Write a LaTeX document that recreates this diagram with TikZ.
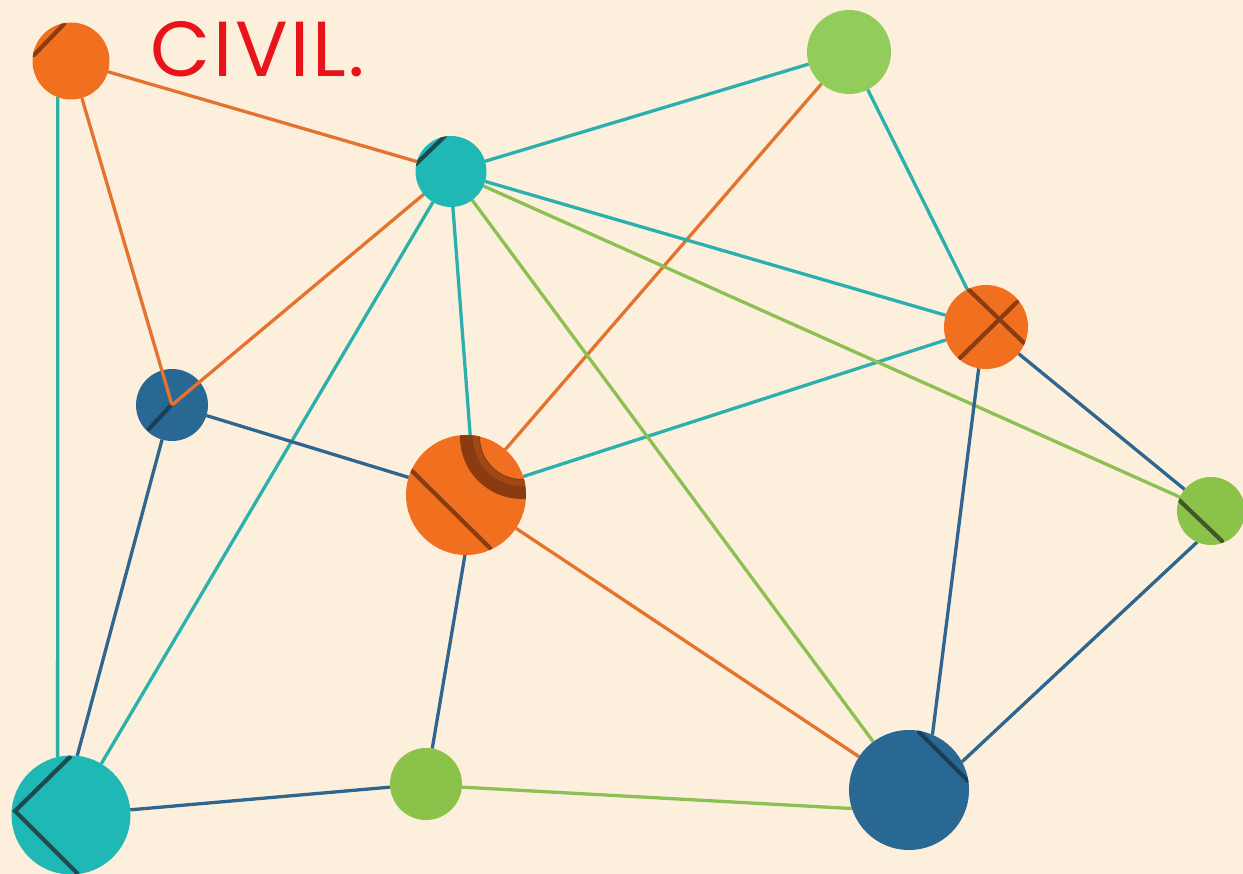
\documentclass[tikz,border=0pt]{standalone}
\usepackage{fontspec}
\newfontfamily\civfont{Poppins}[LetterSpace=3.5]
\definecolor{bg}{HTML}{FCF0DC}
\definecolor{orng}{HTML}{F07020}
\definecolor{orline}{HTML}{E4732F}
\definecolor{teal1}{HTML}{20B8B4}
\definecolor{tealline}{HTML}{2CB0AE}
\definecolor{lgreen}{HTML}{92CD5C}
\definecolor{green1}{HTML}{8BC34A}
\definecolor{gline}{HTML}{8CC052}
\definecolor{blue1}{HTML}{286892}
\definecolor{bline}{HTML}{2E6690}
\definecolor{civred}{HTML}{E8141A}
\definecolor{brownd}{HTML}{8A3C10}
\definecolor{brownm}{HTML}{A04816}
\definecolor{darkt}{HTML}{1C4A50}
\definecolor{darkb}{HTML}{1B3F58}
\definecolor{darkg}{HTML}{3E5A28}
\tikzset{
  dot/.style={circle, inner sep=0pt, outer sep=0pt},
  edge/.style={line width=3.3pt},
  shadowline/.style={line width=4.2pt, line cap=round}
}
\begin{document}
\begin{tikzpicture}[x=1pt,y=-1pt]
\fill[bg] (0,0) rectangle (1243,874);
\useasboundingbox (0,0) rectangle (1243,874);
% nodes (positions only; discs filled later)
\path
  (71,61) node[dot, minimum size=77pt] (A) {}
  (451,171.5) node[dot, minimum size=71pt] (B) {}
  (849,52) node[dot, minimum size=84pt] (C) {}
  (986,327) node[dot, minimum size=84pt] (D) {}
  (1211,511) node[dot, minimum size=68pt] (E) {}
  (172,405) node[dot, minimum size=72pt] (F) {}
  (466,495) node[dot, minimum size=120pt] (G) {}
  (71,815) node[dot, minimum size=119pt] (H) {}
  (426,784) node[dot, minimum size=72pt] (I) {}
  (909,790) node[dot, minimum size=120pt] (J) {};
% edges
\draw[edge, orline] (A) -- (B);
\draw[edge, orline] (C) -- (G);
\draw[edge, orline] (G) -- (J);
\draw[edge, tealline] (A.250) -- (H.103);
\draw[edge, tealline] (B) -- (C);
\draw[edge, tealline] (B) -- (D);
\draw[edge, tealline] (B) -- (H);
\draw[edge, tealline] (B.273) -- (G.86);
\draw[edge, tealline] (C) -- (D);
\draw[edge, tealline] (D) -- (G);
\draw[edge, gline] (B) -- (E);
\draw[edge, gline] (B) -- (J);
\draw[edge, gline] (I.355) -- (J.198);
\draw[edge, bline] (D) -- (E);
\draw[edge, bline] (D.260) -- (J.67);
\draw[edge, bline] (E.246) -- (J.28);
\draw[edge, bline] (F) -- (G);
\draw[edge, bline] (F.254) -- (H.84);
\draw[edge, bline] (G.269) -- (I.80);
\draw[edge, bline] (H) -- (I);
% node discs
\fill[orng] (A.center) circle (38.5);
\fill[teal1] (B.center) circle (35.5);
\fill[lgreen] (C.center) circle (42);
\fill[orng] (D.center) circle (42);
\fill[green1] (E.center) circle (34);
\fill[blue1] (F.center) circle (36);
\fill[orng] (G.center) circle (60);
\fill[teal1] (H.center) circle (59.5);
\fill[green1] (I.center) circle (36);
\fill[blue1] (J.center) circle (60);
% dark marks inside discs
\begin{scope}
  \clip (A.center) circle (38.5);
  \draw[shadowline, brownd] (34,55) -- (64,24);
\end{scope}
\begin{scope}
  \clip (B.center) circle (35.5);
  \draw[shadowline, darkt] (416,164) -- (445,136);
\end{scope}
\begin{scope}
  \clip (D.center) circle (42);
  \draw[shadowline, brownd] (969,290) -- (1024,343);
  \draw[shadowline, brownd] (960,358) -- (1017,302);
\end{scope}
\begin{scope}
  \clip (E.center) circle (34);
  \draw[shadowline, darkg] (1179,500) -- (1222,541);
\end{scope}
\begin{scope}
  \clip (F.center) circle (36);
  \draw[shadowline, darkb] (149,429) -- (173,403);
\end{scope}
\begin{scope}
  \clip (G.center) circle (60);
  \draw[brownd, line width=20pt] (522,437) circle (52);
  \draw[brownm, line width=6pt] (522,437) circle (46);
  \draw[shadowline, brownd] (411,470) -- (490,548);
\end{scope}
\begin{scope}
  \clip (H.center) circle (59.5);
  \draw[shadowline, darkt, line cap=butt, line join=miter] (71,756) -- (15,811) -- (78,874);
\end{scope}
\begin{scope}
  \clip (J.center) circle (60);
  \draw[shadowline, darkb] (919,732) -- (968,781);
\end{scope}
% orange lines drawn over F
\draw[edge, orline] (A) -- (F.center);
\draw[edge, orline] (B) -- (F.center);
% title
\node[anchor=base west, inner sep=0pt, text=civred, font=\civfont\fontsize{78}{78}\selectfont] (T) at (150,77) {CIVIL.};
\end{tikzpicture}
\end{document}
